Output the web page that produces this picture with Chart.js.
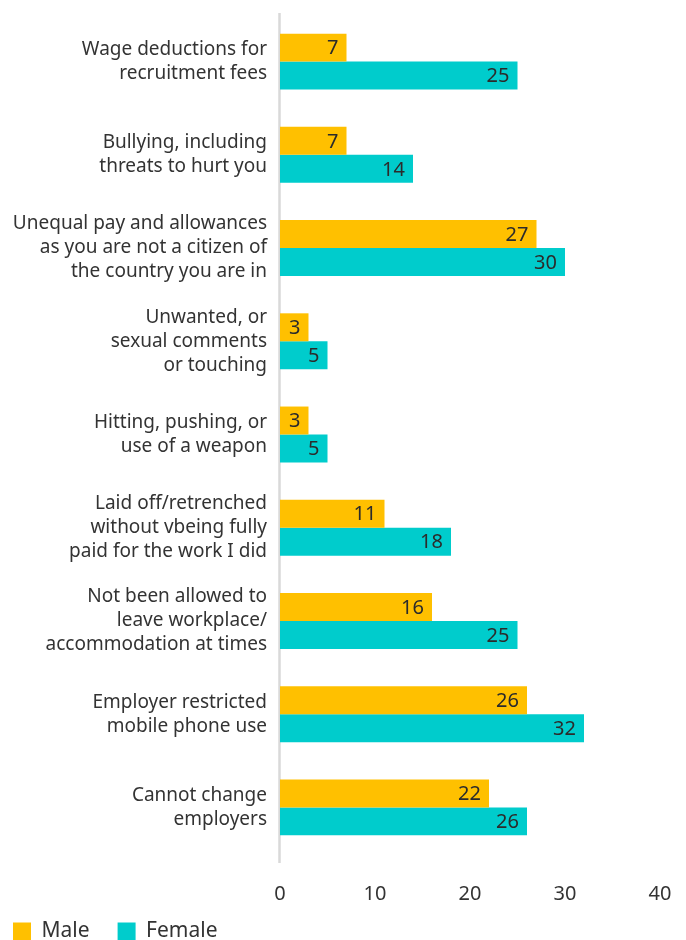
<!DOCTYPE html>
<html>
<head>
<meta charset="utf-8">
<script src="https://cdn.jsdelivr.net/npm/chart.js@4"></script>
<style>
  html, body { margin: 0; padding: 0; background: #fff; overflow: hidden; }
  #wrap { position: relative; width: 686px; height: 952px; }
</style>
</head>
<body>
<div id="wrap"><canvas id="chart"></canvas></div>
<script>
// Categories (multi-line labels) and values
const categories = [
    ['Wage deductions for', 'recruitment fees'],
    ['Bullying, including', 'threats to hurt you'],
    ['Unequal pay and allowances', 'as you are not a citizen of', 'the country you are in'],
    ['Unwanted, or', 'sexual comments', 'or touching'],
    ['Hitting, pushing, or', 'use of a weapon'],
    ['Laid off/retrenched', 'without vbeing fully', 'paid for the work I did'],
    ['Not been allowed to', 'leave workplace/', 'accommodation at times'],
    ['Employer restricted', 'mobile phone use'],
    ['Cannot change', 'employers']
];
const maleValues = [7, 7, 27, 3, 3, 11, 16, 26, 22];
const femaleValues = [25, 14, 30, 5, 5, 18, 25, 32, 26];
const xTicks = [0, 10, 20, 30, 40];

const FONT = "'Noto Sans', 'Open Sans', sans-serif";
Chart.defaults.font.family = FONT;
Chart.defaults.color = '#333';

// Value labels drawn inside the end of each bar
const barValueLabels = {
    id: 'barValueLabels',
    afterDatasetsDraw(chart) {
        const ctx = chart.ctx;
        ctx.save();
        ctx.font = '20px ' + FONT;
        ctx.fillStyle = '#2b2b2b';
        ctx.textAlign = 'right';
        ctx.textBaseline = 'middle';
        chart.data.datasets.forEach((ds, i) => {
            chart.getDatasetMeta(i).data.forEach((bar, j) => {
                ctx.fillText(ds.data[j], bar.x - 8, bar.y + 1);
            });
        });
        ctx.restore();
    }
};

// Light grey axis line at zero, a bit taller than the plot area
const zeroLine = {
    id: 'zeroLine',
    afterLayout(chart) {
        // x tick labels sit lower than the squeezed axis box; widen its clip area
        chart.scales.x.bottom += 30;
    },
    beforeDatasetsDraw(chart) {
        const ctx = chart.ctx;
        const x = chart.scales.x.getPixelForValue(0);
        const area = chart.chartArea;
        ctx.save();
        ctx.strokeStyle = '#d9d9d9';
        ctx.lineWidth = 2.5;
        ctx.beginPath();
        ctx.moveTo(x - 0.5, area.top - 2);
        ctx.lineTo(x - 0.5, area.bottom + 9);
        ctx.stroke();
        ctx.restore();
    }
};

new Chart(document.getElementById('chart'), {
    type: 'bar',
    data: {
        labels: categories,
        datasets: [
            {
                label: 'Male',
                data: maleValues,
                backgroundColor: '#FFC000',
                categoryPercentage: 0.6,
                barPercentage: 1.0
            },
            {
                label: 'Female',
                data: femaleValues,
                backgroundColor: '#00CCCC',
                categoryPercentage: 0.6,
                barPercentage: 1.0
            }
        ]
    },
    plugins: [zeroLine, barValueLabels],
    options: {
        indexAxis: 'y',
        responsive: true,
        maintainAspectRatio: false,
        animation: false,
        layout: { padding: { top: 15, right: 26, left: -15, bottom: 0 } },
        scales: {
            y: {
                afterFit(scale) {
                    scale.width = 295;
                    scale.paddingTop = 0;
                    scale.paddingBottom = 0;
                },
                grid: { display: false, drawTicks: false },
                border: { display: false },
                ticks: {
                    padding: 13,
                    color: '#333',
                    font: { size: 19, lineHeight: '24px' }
                }
            },
            x: {
                min: 0,
                max: 40,
                afterBuildTicks(scale) { scale.ticks = xTicks.map(v => ({ value: v })); },
                afterFit(scale) {
                    scale.height = 39;
                    scale.paddingLeft = 0;
                    scale.paddingRight = 0;
                },
                grid: { display: false, drawTicks: false },
                border: { display: false },
                ticks: {
                    padding: 28,
                    color: '#333',
                    font: { size: 20 }
                }
            }
        },
        plugins: {
            legend: {
                position: 'bottom',
                align: 'start',
                labels: {
                    boxWidth: 18,
                    boxHeight: 18,
                    padding: 28,
                    color: '#333',
                    font: { size: 21 }
                }
            },
            tooltip: { enabled: false }
        }
    }
});
</script>
</body>
</html>
